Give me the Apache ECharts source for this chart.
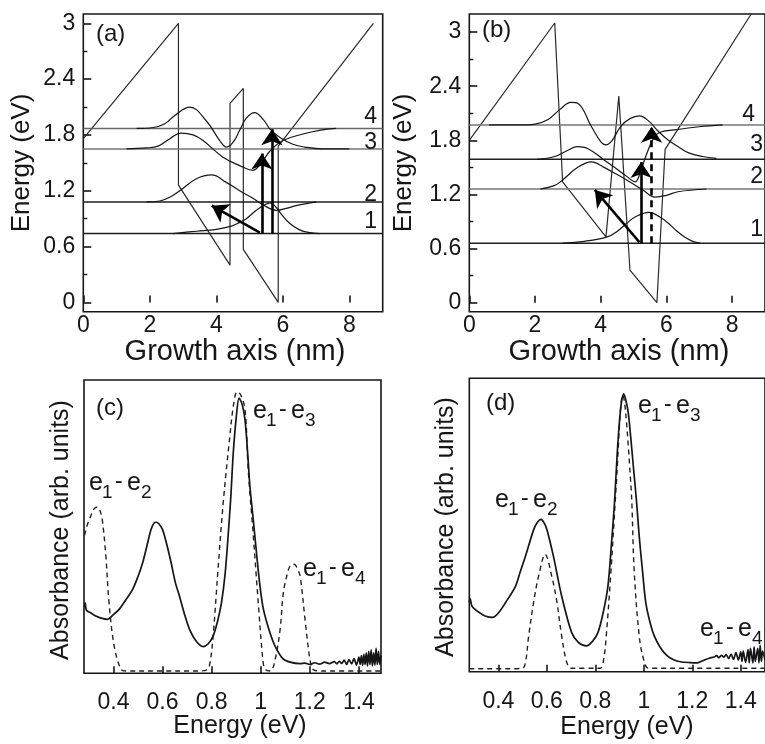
<!DOCTYPE html>
<html>
<head>
<meta charset="utf-8">
<script src="https://cdn.jsdelivr.net/npm/echarts@6/dist/echarts.min.js"></script>
<style>
  html, body { margin: 0; padding: 0; background: #fff; }
  #chart { width: 765px; height: 744px; }
</style>
</head>
<body>
<div id="chart"></div>
<script>
// ---------- Panel (a): conduction band, subband levels, wavefunctions ----------
const bandA = [[0,1.76],[2.86,3.0],[2.86,1.26],[4.41,0.40],[4.41,2.14],[4.81,2.30],[4.81,0.57],[5.86,0.0],[5.86,1.68],[8.72,3.0]];
const levelsA = [0.74, 1.08, 1.65, 1.87];
const waveA1 = [[2.7,0.74],[3.4,0.765],[4.0,0.785],[4.45,0.82],[4.7,0.86],[4.9,0.9],[5.2,0.99],[5.45,1.05],[5.62,1.07],[5.8,1.02],[5.95,0.95],[6.2,0.85],[6.5,0.78],[6.8,0.75],[7.1,0.74]];
const waveA2 = [[1.9,1.08],[2.3,1.09],[2.6,1.13],[2.9,1.2],[3.4,1.33],[3.86,1.37],[4.3,1.29],[4.7,1.2],[5.1,1.12],[5.4,1.05],[5.8,0.99],[6.1,1.01],[6.4,1.04],[7.0,1.08]];
const waveA3 = [[1.3,1.65],[1.9,1.66],[2.25,1.68],[2.6,1.76],[2.94,1.82],[3.3,1.8],[3.6,1.74],[4.2,1.56],[4.7,1.47],[5.1,1.42],[5.35,1.5],[5.62,1.63],[6.0,1.74],[6.6,1.81],[7.1,1.85],[7.6,1.87]];
const waveA4 = [[1.6,1.87],[2.1,1.88],[2.45,1.92],[2.75,2.01],[3.2,2.1],[3.7,1.95],[4.1,1.74],[4.3,1.67],[4.5,1.72],[4.7,1.85],[4.9,1.98],[5.15,2.04],[5.4,1.97],[5.62,1.86],[5.92,1.77],[6.3,1.7],[6.65,1.67],[7.2,1.65],[8.0,1.65]];
const arrowsA = [[[5.31,0.75],[3.86,1.04]], [[5.37,0.74],[5.37,1.60]], [[5.67,0.74],[5.67,1.86]]];

// ---------- Panel (b) ----------
const bandB = [[0,1.80],[2.60,3.10],[2.84,1.34],[4.16,0.73],[4.55,2.29],[4.89,0.36],[5.71,0.0],[5.96,1.70],[8.58,3.2]];
const levelsB = [0.66, 1.26, 1.59, 1.97];
const waveB1 = [[2.84,0.66],[3.5,0.68],[4.2,0.73],[4.5,0.79],[4.79,0.88],[5.1,0.96],[5.47,1.0],[5.8,0.95],[6.06,0.88],[6.3,0.8],[6.54,0.73],[6.8,0.68],[7.03,0.66]];
const waveB2 = [[2.16,1.26],[2.6,1.3],[2.84,1.36],[3.3,1.5],[3.72,1.56],[4.1,1.5],[4.5,1.42],[4.79,1.36],[5.28,1.25],[5.66,1.17],[6.0,1.19],[6.35,1.23],[7.22,1.26]];
const waveB3 = [[2.06,1.59],[2.6,1.62],[3.0,1.69],[3.28,1.73],[3.6,1.71],[4.11,1.58],[4.5,1.48],[4.79,1.40],[5.05,1.34],[5.2,1.44],[5.37,1.62],[5.55,1.78],[5.76,1.88],[6.35,1.92],[7.0,1.95],[7.71,1.97]];
const waveB4 = [[0.6,1.97],[1.5,1.97],[2.0,1.98],[2.4,2.03],[2.75,2.14],[3.1,2.22],[3.3,2.21],[3.72,1.95],[4.01,1.78],[4.16,1.75],[4.35,1.8],[4.6,1.95],[4.89,2.04],[5.18,2.07],[5.47,2.01],[5.75,1.9],[6.06,1.8],[6.35,1.73],[6.68,1.66],[7.1,1.62],[7.52,1.6]];
const arrowsB = [[[5.18,0.67],[3.82,1.25]], [[5.23,0.66],[5.23,1.56]]];
const dashedArrowsB = [[[5.55,0.66],[5.55,1.95]]];

// ---------- Panels (c), (d): absorbance spectra (solid) and computed transitions (dashed) ----------
const absC = [[0.282,0.225],[0.285,0.24],[0.29,0.215],[0.31,0.205],[0.328,0.195],[0.35,0.188],[0.375,0.184],[0.4,0.2],[0.423,0.218],[0.45,0.25],[0.478,0.286],[0.5,0.33],[0.519,0.377],[0.535,0.43],[0.553,0.49],[0.565,0.512],[0.574,0.515],[0.585,0.51],[0.6,0.49],[0.617,0.44],[0.635,0.377],[0.652,0.31],[0.669,0.263],[0.69,0.2],[0.71,0.15],[0.735,0.112],[0.765,0.091],[0.785,0.1],[0.806,0.127],[0.825,0.18],[0.84,0.24],[0.855,0.34],[0.867,0.467],[0.878,0.6],[0.888,0.75],[0.9,0.87],[0.912,0.938],[0.925,0.915],[0.936,0.864],[0.946,0.76],[0.956,0.637],[0.97,0.52],[0.984,0.4],[0.998,0.29],[1.011,0.218],[1.037,0.14],[1.06,0.09],[1.09,0.05],[1.12,0.038],[1.16,0.033],[1.18,0.035],[1.2,0.03],[1.22,0.036],[1.24,0.031],[1.26,0.038],[1.28,0.033],[1.3,0.04],[1.31,0.032],[1.32,0.041],[1.33,0.034],[1.34,0.045],[1.35,0.03],[1.36,0.047],[1.37,0.032],[1.38,0.05],[1.39,0.028],[1.4,0.055],[1.405,0.03],[1.41,0.06],[1.415,0.027],[1.42,0.065],[1.425,0.03],[1.43,0.07],[1.435,0.025],[1.44,0.075],[1.445,0.03],[1.45,0.08],[1.455,0.025],[1.46,0.07],[1.465,0.028],[1.47,0.085],[1.475,0.03],[1.48,0.075],[1.485,0.03],[1.49,0.06]];
const calcC = [[0.282,0.47],[0.295,0.51],[0.307,0.535],[0.32,0.56],[0.334,0.567],[0.345,0.555],[0.355,0.52],[0.369,0.4],[0.382,0.24],[0.403,0.093],[0.43,0.014],[0.45,0.008],[0.6,0.008],[0.75,0.008],[0.78,0.012],[0.792,0.03],[0.806,0.127],[0.826,0.354],[0.847,0.58],[0.874,0.807],[0.89,0.92],[0.904,0.96],[0.918,0.95],[0.936,0.9],[0.949,0.694],[0.97,0.467],[0.99,0.24],[1.01,0.036],[1.02,0.012],[1.04,0.008],[1.059,0.048],[1.079,0.15],[1.092,0.274],[1.11,0.345],[1.119,0.365],[1.13,0.372],[1.14,0.37],[1.15,0.355],[1.161,0.33],[1.182,0.172],[1.202,0.04],[1.215,0.012],[1.25,0.008],[1.49,0.008]];
const absD = [[0.28,0.236],[0.283,0.25],[0.29,0.225],[0.3,0.215],[0.321,0.202],[0.345,0.19],[0.376,0.185],[0.4,0.2],[0.43,0.236],[0.471,0.292],[0.49,0.34],[0.512,0.394],[0.546,0.485],[0.562,0.51],[0.576,0.519],[0.588,0.508],[0.6,0.485],[0.627,0.394],[0.661,0.258],[0.702,0.134],[0.73,0.1],[0.763,0.088],[0.79,0.105],[0.811,0.134],[0.832,0.2],[0.852,0.292],[0.866,0.43],[0.879,0.575],[0.89,0.74],[0.9,0.858],[0.908,0.92],[0.917,0.947],[0.926,0.925],[0.936,0.881],[0.947,0.79],[0.958,0.689],[0.97,0.58],[0.981,0.462],[0.995,0.34],[1.008,0.236],[1.025,0.17],[1.043,0.122],[1.07,0.08],[1.097,0.054],[1.125,0.04],[1.151,0.034],[1.19,0.031],[1.22,0.03],[1.25,0.04],[1.27,0.046],[1.29,0.05],[1.3,0.055],[1.31,0.048],[1.32,0.056],[1.33,0.05],[1.34,0.058],[1.35,0.045],[1.36,0.06],[1.37,0.042],[1.38,0.065],[1.39,0.04],[1.4,0.068],[1.405,0.035],[1.41,0.07],[1.42,0.032],[1.43,0.075],[1.435,0.03],[1.44,0.08],[1.45,0.03],[1.455,0.085],[1.46,0.035],[1.47,0.08],[1.475,0.03],[1.48,0.09],[1.485,0.035],[1.49,0.07],[1.5,0.04]];
const calcD = [[0.28,0.01],[0.45,0.01],[0.5,0.012],[0.512,0.032],[0.525,0.122],[0.546,0.24],[0.566,0.326],[0.593,0.4],[0.62,0.326],[0.641,0.24],[0.661,0.122],[0.682,0.032],[0.7,0.012],[0.82,0.012],[0.834,0.04],[0.845,0.122],[0.865,0.349],[0.886,0.632],[0.913,0.943],[0.947,0.632],[0.96,0.349],[0.981,0.122],[1.0,0.04],[1.02,0.012],[1.5,0.012]];

// ---------- Tick labels ----------
const growthTicks = [0, 2, 4, 6, 8];
const energyTicks = [0, 0.6, 1.2, 1.8, 2.4, 3];
const energyMinorTicks = [0.3, 0.9, 1.5, 2.1, 2.7];
const photonTicks = [0.4, 0.6, 0.8, 1, 1.2, 1.4];
const levelNames = ['1', '2', '3', '4'];

// ---------- Styles ----------
const FONT = '"Liberation Sans", Arial, Helvetica, sans-serif';
const INK = '#161616';

function grid(left, top, width, height) {
  return { left, top, width, height, show: true, borderColor: INK, borderWidth: 1.6, backgroundColor: 'transparent', containLabel: false };
}
function xAxisFor(gi, min, max, ticks, margin) {
  return {
    type: 'value', gridIndex: gi, min, max,
    axisLine: { show: false }, splitLine: { show: false },
    axisTick: { show: true, inside: true, length: 7, customValues: ticks, lineStyle: { color: INK, width: 1.6 } },
    axisLabel: { show: true, customValues: ticks, margin, color: INK, fontSize: 23, fontFamily: FONT }
  };
}
function yAxisMajor(gi, min, max) {
  return {
    type: 'value', gridIndex: gi, min, max, position: 'left',
    axisLine: { show: false }, splitLine: { show: false },
    axisTick: { show: true, inside: true, length: 8, customValues: energyTicks, lineStyle: { color: INK, width: 1.6 } },
    axisLabel: { show: true, customValues: energyTicks, margin: 8, color: INK, fontSize: 23, fontFamily: FONT }
  };
}
function yAxisMinor(gi, min, max) {
  return {
    type: 'value', gridIndex: gi, min, max, position: 'left', offset: 0,
    axisLine: { show: false }, splitLine: { show: false },
    axisTick: { show: true, inside: true, length: 4, customValues: energyMinorTicks, lineStyle: { color: INK, width: 1.4 } },
    axisLabel: { show: false }
  };
}
function yAxisPlain(gi) {
  return {
    type: 'value', gridIndex: gi, min: 0, max: 1,
    axisLine: { show: false }, splitLine: { show: false }, axisTick: { show: false }, axisLabel: { show: false }
  };
}
function curve(data, xi, yi, opts) {
  const o = opts || {};
  return {
    type: 'line', xAxisIndex: xi, yAxisIndex: yi, data,
    showSymbol: false, symbol: 'none', silent: true, smooth: o.smooth || false,
    z: o.z || 2,
    lineStyle: { color: o.color || INK, width: o.width || 1.2, type: o.type || 'solid' }
  };
}
function levelLines(levels, colors, xi, yi) {
  return levels.map((L, i) => curve([[0, L], [9, L]], xi, yi, { color: colors[i], width: 1.5 }));
}
function arrowSeries(list, xi, yi, dashed) {
  return {
    type: 'lines', coordinateSystem: 'cartesian2d', xAxisIndex: xi, yAxisIndex: yi,
    silent: true, z: 6, polyline: false,
    symbol: ['none', 'arrow'], symbolSize: [1, 16],
    lineStyle: { color: '#000', width: 2.6, opacity: 1, curveness: 0, type: dashed ? [7, 5] : 'solid' },
    data: list.map(c => ({ coords: c }))
  };
}

// ---------- Text annotations ----------
function txt(text, x, y, opts) {
  const o = opts || {};
  const align = o.align || 'left';
  return {
    type: 'text', x, y, rotation: o.rotation || 0, silent: true, z: 20,
    style: {
      text, fill: INK, font: (o.size || 23) + 'px ' + FONT,
      align, textAlign: align, verticalAlign: 'middle', textVerticalAlign: 'middle'
    }
  };
}
function transitionLabel(x, y, lo, hi) {
  return [
    txt('e', x, y, { size: 25 }),
    txt(lo, x + 13, y + 10, { size: 19 }),
    txt('-', x + 26, y - 1, { size: 23 }),
    txt('e', x + 38, y, { size: 25 }),
    txt(hi, x + 52, y + 10, { size: 19 })
  ];
}

const graphics = [
  txt('(a)', 96, 34, { size: 24 }), txt('(b)', 482, 30, { size: 24 }),
  txt('(c)', 96, 408, { size: 24 }), txt('(d)', 486, 403, { size: 24 }),
  txt('Energy (eV)', 22, 163, { rotation: Math.PI / 2, align: 'center', size: 26 }),
  txt('Energy (eV)', 404, 163, { rotation: Math.PI / 2, align: 'center', size: 26 }),
  txt('Growth axis (nm)', 235, 352, { align: 'center', size: 29 }),
  txt('Growth axis (nm)', 619, 352, { align: 'center', size: 29 }),
  txt('Absorbance (arb. units)', 61, 530, { rotation: Math.PI / 2, align: 'center', size: 25 }),
  txt('Absorbance (arb. units)', 446, 527, { rotation: Math.PI / 2, align: 'center', size: 25 }),
  txt('Energy (eV)', 240, 726, { align: 'center', size: 25 }),
  txt('Energy (eV)', 627, 727, { align: 'center', size: 25 }),
  txt(levelNames[3], 377, 117, { align: 'right' }),
  txt(levelNames[2], 377, 143, { align: 'right' }),
  txt(levelNames[1], 377, 195, { align: 'right' }),
  txt(levelNames[0], 377, 222, { align: 'right' }),
  txt(levelNames[3], 755, 115, { align: 'right' }),
  txt(levelNames[2], 763, 145, { align: 'right' }),
  txt(levelNames[1], 763, 177, { align: 'right' }),
  txt(levelNames[0], 763, 230, { align: 'right' })
].concat(
  transitionLabel(89, 483, '1', '2'),
  transitionLabel(253, 411, '1', '3'),
  transitionLabel(303, 569, '1', '4'),
  transitionLabel(638, 406, '1', '3'),
  transitionLabel(495, 500, '1', '2'),
  transitionLabel(700, 629, '1', '4')
);

const option = {
  animation: false,
  backgroundColor: '#fff',
  grid: [
    grid(83.3, 14, 299.4, 297.7),
    grid(469.3, 14, 308.3, 297.7),
    grid(84, 380, 297, 293.3),
    grid(469.3, 378.3, 299, 293.4)
  ],
  xAxis: [
    xAxisFor(0, 0, 9, growthTicks, 2),
    xAxisFor(1, 0, 9, growthTicks, 2),
    xAxisFor(2, 0.28, 1.49, photonTicks, 18),
    xAxisFor(3, 0.28, 1.5, photonTicks, 18)
  ],
  yAxis: [
    yAxisMajor(0, -0.1, 3.1), yAxisMinor(0, -0.1, 3.1),
    yAxisMajor(1, -0.1, 3.2), yAxisMinor(1, -0.1, 3.2),
    yAxisPlain(2), yAxisPlain(3)
  ],
  series: [].concat(
    [curve(bandA, 0, 0, { color: '#2a2a2a', width: 1.2 })],
    levelLines(levelsA, ['#1e1e1e', '#1e1e1e', '#777', '#666'], 0, 0),
    [waveA1, waveA2, waveA3, waveA4].map(w => curve(w, 0, 0, { smooth: 0.4, width: 1.2 })),
    [arrowSeries(arrowsA, 0, 0, false)],

    [curve(bandB, 1, 2, { color: '#2a2a2a', width: 1.2 })],
    levelLines(levelsB, ['#1e1e1e', '#777', '#1e1e1e', '#777'], 1, 2),
    [waveB1, waveB2, waveB3, waveB4].map(w => curve(w, 1, 2, { smooth: 0.4, width: 1.2 })),
    [arrowSeries(arrowsB, 1, 2, false), arrowSeries(dashedArrowsB, 1, 2, true)],

    [curve(calcC, 2, 4, { smooth: 0.35, width: 1.4, color: '#222', type: [5, 4] })],
    [curve(absC, 2, 4, { smooth: 0.3, width: 1.7, z: 3 })],
    [curve(calcD, 3, 5, { smooth: 0.35, width: 1.4, color: '#222', type: [5, 4] })],
    [curve(absD, 3, 5, { smooth: 0.3, width: 1.7, z: 3 })]
  ),
  graphic: graphics
};

const chart = echarts.init(document.getElementById('chart'), null, { renderer: 'canvas' });
chart.setOption(option);
</script>
</body>
</html>
